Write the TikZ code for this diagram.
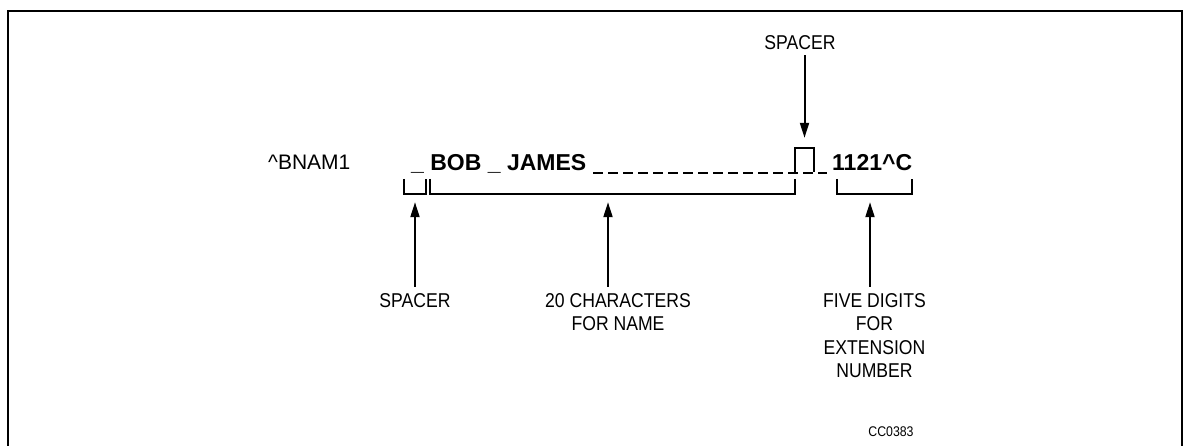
\documentclass[tikz,border=0pt]{standalone}
\usepackage{fontspec}
\setmainfont{Liberation Sans}
\newfontfamily\narrowfont[FakeStretch=0.88]{Liberation Sans}
\usetikzlibrary{arrows.meta}
\tikzset{
  lbl/.style={inner sep=0pt, align=center, font=\narrowfont\fontsize{20}{23.5}\selectfont},
  code/.style={inner sep=0pt, anchor=base west, font=\bfseries\fontsize{23}{27}\selectfont},
  bk/.style={inner sep=0pt, draw=none},
  bkline/.style={line width=1.5pt},
  arr/.style={line width=2pt, -{Triangle[length=15pt,width=9pt]}},
  frame/.style={line width=1.8pt}
}
\begin{document}
\begin{tikzpicture}[x=1pt,y=-1pt]
\useasboundingbox (0,0) rectangle (1184,446);
% frame (open at the bottom, cut by the page)
\draw[frame] (8,450) -- (8,11) -- (1182,11) -- (1182,450);

% command line
\node[inner sep=0pt, anchor=base west, font=\fontsize{21}{25}\selectfont] (cmd) at (268,170) {\textasciicircum BNAM1};
\node[code] (name) at (411,171) {\_ BOB \_ JAMES};
\coordinate (dashstart) at (593,173);
\coordinate (dashend) at (827,173);
\draw[line width=2pt, dash pattern=on 10pt off 5pt] (dashstart) -- (dashend);
\node[code] (ext) at (832,171) {1121\textasciicircum C};

% spacer box (open at the bottom)
\node[bk, minimum width=19pt, minimum height=24pt] (box) at (804.5,160) {};
\draw[bkline] (box.south west) -- (box.north west) -- (box.north east) -- (box.south east);

% brackets
\node[bk, minimum width=22pt, minimum height=15pt] (b1) at (415,186.5) {};
\node[bk, minimum width=365pt, minimum height=15pt] (b2) at (612.5,186.5) {};
\node[bk, minimum width=75pt, minimum height=15pt] (b3) at (874.5,186.5) {};
\foreach \b in {b1,b2,b3}
  \draw[bkline] (\b.north west) -- (\b.south west) -- (\b.south east) -- (\b.north east);

% labels
\node[lbl, anchor=base] (sp1) at (800,50) {SPACER};
\node[lbl, anchor=north] (sp2) at (415,293) {SPACER};
\node[lbl, anchor=north] (chars) at (618,293) {20 CHARACTERS\\FOR NAME};
\node[lbl, anchor=north] (digits) at (874.5,293) {FIVE DIGITS\\FOR\\EXTENSION\\NUMBER};
\node[inner sep=0pt, font=\narrowfont\fontsize{14}{16}\selectfont] (cc) at (891,432) {CC0383};

% arrow start points on the labels
\coordinate (charsfoot) at ([xshift=-10pt]chars.north);
\coordinate (digitsfoot) at ([xshift=-4.5pt]digits.north);

% arrows
\draw[arr, shorten <=5pt, shorten >=10pt] (box.north |- sp1.south) -- (box.north);
\draw[arr, shorten <=6pt, shorten >=8pt] (sp2.north) -- (sp2.north |- b1.south);
\draw[arr, shorten <=6pt, shorten >=8pt] (charsfoot) -- (charsfoot |- b2.south);
\draw[arr, shorten <=6pt, shorten >=8pt] (digitsfoot) -- (digitsfoot |- b3.south);
\end{tikzpicture}
\end{document}
